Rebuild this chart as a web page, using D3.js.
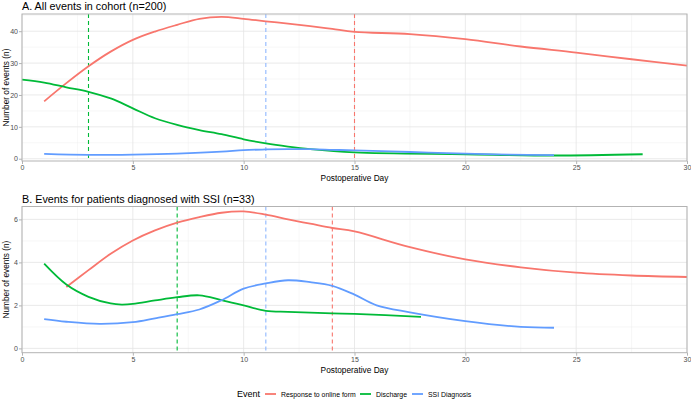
<!DOCTYPE html>
<html>
<head>
<meta charset="utf-8">
<script src="https://cdn.jsdelivr.net/npm/d3@7"></script>
<style>
  body { margin: 0; background: #fff; }
  text { font-family: "Liberation Sans", Arial, sans-serif; }
</style>
</head>
<body>
<svg id="chart" width="691" height="399"></svg>
<script>
// series: [day, count]
const cohortResponse = [[1,18],[2,23.7],[3,29],[4,33.6],[5,37.3],[6,39.9],[7,42],[8,43.9],[9,44.5],[10,43.9],[11,43.1],[12,42.4],[13,41.6],[14,40.7],[15,39.8],[17.5,39.1],[20,37.5],[22.5,35.2],[25,33.3],[27.5,31.2],[30,29.2]];
const cohortDischarge = [[0,24.8],[1,23.9],[2,22.4],[3,21],[4,18.9],[5,15.8],[6,12.7],[7,10.6],[8,9],[9,7.7],[10,6.1],[11,4.8],[12,3.8],[13,3],[15,2],[20,1.4],[24,1],[28,1.4]];
const cohortSSI = [[1,1.5],[3,1.2],[5,1.3],[7,1.6],[9,2.2],[10,2.7],[11,2.9],[12,3],[13,3],[14,2.8],[15,2.6],[17.5,2.1],[20,1.6],[22,1.3],[24,1.1]];

const ssiResponse = [[2,2.86],[3,3.64],[4,4.4],[5,5.02],[6,5.49],[7,5.85],[8,6.11],[9,6.31],[10,6.37],[11,6.22],[12,6],[13,5.8],[14,5.6],[15,5.44],[17.5,4.71],[20,4.14],[22.5,3.77],[25,3.52],[27.5,3.39],[30,3.32]];
const ssiDischarge = [[1,3.94],[2,2.97],[3,2.4],[4,2.09],[4.5,2.04],[5,2.07],[6,2.23],[7,2.38],[8,2.47],[9,2.25],[10,2],[11,1.75],[12,1.7],[14,1.63],[15,1.61],[18,1.47]];
const ssiSSI = [[1,1.36],[2,1.24],[3.5,1.14],[5,1.22],[6,1.4],[7,1.59],[8,1.81],[9,2.24],[10,2.78],[11,3.02],[12,3.17],[13,3.08],[14,2.91],[15,2.5],[16,2.0],[17.5,1.68],[20,1.27],[22.5,1.0],[24,0.96]];

// medians drawn as dashed lines
const cohortMedians = [3, 11, 15];   // discharge, SSI, response
const ssiMedians = [7, 11, 14];

const events = ["Response to online form", "Discharge", "SSI Diagnosis"];
const xTicks = [0, 5, 10, 15, 20, 25, 30];

const color = d3.scaleOrdinal().domain(events).range(["#F8766D", "#00BA38", "#619CFF"]);

const svg = d3.select("#chart");
const left = 22, right = 687;
const x = d3.scaleLinear().domain([0, 30]).range([left, right]);

function panel(opts) {
  const y = d3.scaleLinear().domain(opts.yDomain).range([opts.bottom, opts.top]);
  const g = svg.append("g");

  g.append("text")
    .attr("x", left).attr("y", opts.top - 4)
    .attr("font-size", 10.8).attr("fill", "#000")
    .text(opts.title);

  // minor grid
  g.selectAll(".mx").data(d3.range(2.5, 30, 5)).join("line")
    .attr("x1", d => x(d)).attr("x2", d => x(d))
    .attr("y1", opts.top).attr("y2", opts.bottom)
    .attr("stroke", "#efefef").attr("stroke-width", 0.5);
  g.selectAll(".my").data(opts.minorY).join("line")
    .attr("x1", left).attr("x2", right)
    .attr("y1", d => y(d)).attr("y2", d => y(d))
    .attr("stroke", "#efefef").attr("stroke-width", 0.5);
  // major grid
  g.selectAll(".gx").data(xTicks).join("line")
    .attr("x1", d => x(d)).attr("x2", d => x(d))
    .attr("y1", opts.top).attr("y2", opts.bottom)
    .attr("stroke", "#e4e4e4").attr("stroke-width", 0.8);
  g.selectAll(".gy").data(opts.yTicks).join("line")
    .attr("x1", left).attr("x2", right)
    .attr("y1", d => y(d)).attr("y2", d => y(d))
    .attr("stroke", "#e4e4e4").attr("stroke-width", 0.8);

  const line = d3.line().x(d => x(d[0])).y(d => y(d[1])).curve(d3.curveCatmullRom.alpha(0.5));

  // dashed medians: discharge, SSI, response order
  const medColors = ["#00BA38", "#8fb8ff", "#F8766D"];
  g.selectAll(".med").data(opts.medians).join("line")
    .attr("x1", d => x(d)).attr("x2", d => x(d))
    .attr("y1", opts.top).attr("y2", opts.bottom)
    .attr("stroke", (d, i) => medColors[i])
    .attr("stroke-width", 1.1)
    .attr("stroke-dasharray", "4,3");

  opts.series.forEach((s, i) => {
    g.append("path").datum(s)
      .attr("d", line)
      .attr("fill", "none")
      .attr("stroke", color(events[i]))
      .attr("stroke-width", 1.8);
  });

  // border
  g.append("rect")
    .attr("x", left).attr("y", opts.top)
    .attr("width", right - left).attr("height", opts.bottom - opts.top)
    .attr("fill", "none").attr("stroke", "#b3b3b3").attr("stroke-width", 1);

  // axes
  const xa = g.append("g").attr("transform", `translate(0,${opts.bottom})`)
    .call(d3.axisBottom(x).tickValues(xTicks).tickSize(3).tickPadding(1));
  const ya = g.append("g").attr("transform", `translate(${left},0)`)
    .call(d3.axisLeft(y).tickValues(opts.yTicks).tickFormat(d3.format("d")).tickSize(3).tickPadding(1));
  [xa, ya].forEach(a => {
    a.select(".domain").remove();
    a.selectAll(".tick line").attr("stroke", "#b3b3b3");
    a.selectAll(".tick text").attr("fill", "#4d4d4d").attr("font-size", 7)
      .style("font-family", '"Liberation Sans", Arial, sans-serif');
  });

  g.append("text")
    .attr("x", (left + right) / 2).attr("y", opts.bottom + 20)
    .attr("text-anchor", "middle").attr("font-size", 8.3).attr("fill", "#000")
    .text("Postoperative Day");

  g.append("text")
    .attr("transform", `translate(9,${(opts.top + opts.bottom) / 2}) rotate(-90)`)
    .attr("text-anchor", "middle").attr("font-size", 8.3).attr("fill", "#000")
    .text("Number of events (n)");
}

panel({
  title: "A. All events in cohort (n=200)",
  top: 14, bottom: 161,
  yDomain: [-0.72, 45.4],
  yTicks: [0, 10, 20, 30, 40],
  minorY: [5, 15, 25, 35, 45],
  medians: cohortMedians,
  series: [cohortResponse, cohortDischarge, cohortSSI]
});

panel({
  title: "B. Events for patients diagnosed with SSI (n=33)",
  top: 206.5, bottom: 352.7,
  yDomain: [-0.2, 6.6],
  yTicks: [0, 2, 4, 6],
  minorY: [1, 3, 5],
  medians: ssiMedians,
  series: [ssiResponse, ssiDischarge, ssiSSI]
});

// legend
const lg = svg.append("g").attr("transform", "translate(0,394)");
lg.append("text").attr("x", 237).attr("y", 3.3).attr("font-size", 9).attr("fill", "#000").text("Event");
const keyX = [265, 360, 412];
events.forEach((e, i) => {
  lg.append("line")
    .attr("x1", keyX[i]).attr("x2", keyX[i] + 11)
    .attr("y1", 0).attr("y2", 0)
    .attr("stroke", color(e)).attr("stroke-width", 1.8);
  lg.append("text")
    .attr("x", keyX[i] + 16).attr("y", 2.5)
    .attr("font-size", 6.9).attr("fill", "#000")
    .text(e);
});
</script>
</body>
</html>
